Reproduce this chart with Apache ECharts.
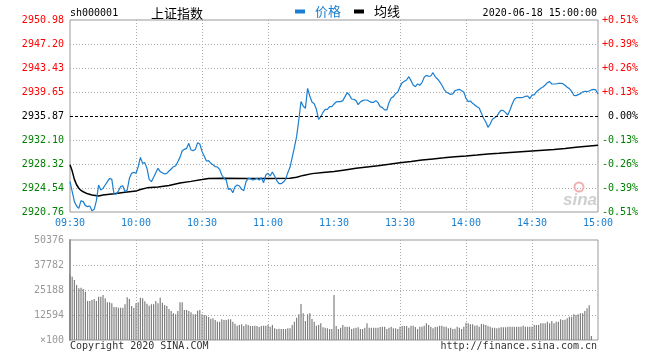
<!DOCTYPE html>
<html>
<head>
<meta charset="utf-8">
<script src="https://cdn.jsdelivr.net/npm/echarts@6/dist/echarts.min.js"></script>
<style>html,body{margin:0;padding:0;background:#fff}#c{width:660px;height:360px}</style>
</head>
<body>
<div id="c"></div>
<script>
// ---- data ----
const timeLabels = ['09:30','10:00','10:30','11:00','11:30','13:30','14:00','14:30','15:00'];
const priceTicks = ['2920.76','2924.54','2928.32','2932.10','2935.87','2939.65','2943.43','2947.20','2950.98'];
const pctTicks = ['-0.51%','-0.39%','-0.26%','-0.13%','0.00%','+0.13%','+0.26%','+0.39%','+0.51%'];
const volTicks = ['×100','12594','25188','37782','50376'];
const prevClose = 2935.87;
const priceStep = 3.7775;
const volMax = 50376;

// price per minute (09:30 .. 15:00, 241 points)
const prices = [
2925.53,2923.96,2922.39,2921.70,2921.34,2922.54,2922.39,2921.76,2921.60,2921.70,
2920.97,2921.18,2922.54,2925.01,2924.22,2924.48,2925.01,2925.53,2926.06,2925.90,
2923.59,2923.59,2924.06,2924.75,2924.90,2923.96,2924.22,2926.06,2926.85,2927.00,
2926.85,2927.89,2929.36,2928.42,2928.52,2927.63,2925.90,2925.53,2926.22,2926.95,
2927.63,2927.11,2926.95,2926.74,2926.85,2927.21,2927.53,2927.89,2928.00,2928.68,
2929.36,2930.41,2930.62,2930.78,2931.57,2930.52,2930.41,2930.62,2931.67,2931.46,
2930.30,2929.57,2928.79,2928.84,2928.42,2928.21,2927.89,2927.84,2927.48,2926.58,
2926.06,2925.80,2924.33,2924.43,2923.80,2924.75,2925.01,2924.85,2924.33,2924.12,
2925.53,2926.06,2926.01,2925.80,2925.90,2926.06,2925.80,2926.16,2925.38,2926.58,
2926.85,2926.43,2927.06,2926.43,2925.69,2925.22,2925.22,2925.48,2925.90,2926.95,
2927.79,2929.36,2930.94,2932.62,2935.24,2938.13,2937.44,2937.08,2940.22,2939.02,
2938.07,2937.81,2936.92,2935.35,2935.76,2936.45,2936.92,2936.92,2937.34,2937.34,
2937.75,
2938.08,2938.13,2938.13,2938.29,2938.92,2939.55,2939.18,2938.55,2938.50,2938.29,
2937.66,2938.08,2938.29,2938.39,2938.39,2938.18,2938.02,2938.02,2938.29,2937.97,
2937.34,2937.19,2936.82,2936.82,2937.97,2938.71,2938.92,2939.39,2939.65,2940.49,
2941.12,2941.33,2941.54,2942.06,2941.44,2940.75,2940.49,2940.91,2940.70,2941.12,
2941.96,2942.27,2942.12,2942.17,2942.69,2942.06,2941.70,2941.28,2940.75,2940.07,
2939.65,2939.44,2939.28,2939.34,2939.86,2939.97,2940.07,2939.86,2939.65,2938.65,
2938.13,2938.23,2937.87,2937.61,2937.34,2937.13,2936.29,2935.51,2934.93,2934.09,
2934.61,2935.35,2935.61,2935.82,2936.40,2936.77,2936.71,2936.40,2936.03,2936.82,
2937.76,2938.50,2938.76,2938.76,2938.76,2938.81,2938.97,2939.02,2938.60,2939.18,
2939.18,2939.65,2939.97,2940.23,2940.44,2940.75,2941.12,2941.28,2940.91,2940.91,
2940.91,2941.02,2941.02,2940.96,2940.70,2940.39,2940.18,2939.76,2939.13,2939.07,
2939.23,2939.39,2939.65,2939.76,2939.70,2939.81,2939.97,2940.07,2939.97,2939.34
];

// average line, read at these minutes
const avgMinutes = [0,1,2,3,4,5,6,8,10,13,15,20,25,30,32,35,40,45,50,55,60,63,70,80,90,100,103,106,110,115,120,125,130,135,140,145,150,155,160,165,170,175,180,185,190,195,200,205,210,215,220,225,230,235,240];
const avgValues = [2928.20,2927.20,2925.90,2925.05,2924.50,2924.15,2923.95,2923.62,2923.45,2923.28,2923.42,2923.63,2923.85,2924.05,2924.30,2924.56,2924.70,2924.93,2925.33,2925.58,2925.86,2926.04,2926.06,2926.03,2926.02,2926.06,2926.22,2926.52,2926.80,2926.97,2927.12,2927.38,2927.64,2927.85,2928.05,2928.27,2928.50,2928.72,2928.95,2929.12,2929.28,2929.45,2929.58,2929.72,2929.87,2929.99,2930.12,2930.24,2930.36,2930.48,2930.60,2930.76,2930.95,2931.10,2931.25];

// volume per minute (x100)
const volumes = [
33000,31905,30226,27707,26028,26363,25692,24348,19647,19647,
20150,20654,19647,21830,21830,22669,20990,18975,18975,18471,
16624,16624,16288,16288,16288,17967,21494,20654,17128,16288,
18471,18975,21326,20990,19479,18303,17296,17967,17967,19647,
18471,21326,18807,17632,17128,15617,14609,13434,12930,14609,
18975,18975,15113,15113,14609,13937,12930,12930,14777,15113,
12930,12594,12258,11586,10747,10915,10075,9236,9236,10411,
10075,10075,10411,10411,9236,8228,7221,7556,7892,7053,
7892,7556,7053,7053,7221,7053,6549,7053,7221,7221,
7556,6717,7556,5877,5541,5709,5541,5541,5541,5877,
5877,7556,9236,11251,12930,18135,13434,9571,12930,13434,
10579,9236,7221,7556,8396,6381,6213,5877,5541,5541,
22669,
7053,5541,6213,7556,6717,6717,6717,5541,5877,6213,
6381,5541,5541,6213,8396,6213,6213,6213,6213,6213,
6549,6717,6717,5541,6213,6717,5877,5877,5541,6717,
7053,7053,7053,6213,7221,7221,6549,5541,6717,6717,
7221,8396,7556,6717,5877,6549,6717,7221,7221,6717,
6717,5877,6213,5541,5709,6717,6213,5541,6717,8732,
8396,7892,7892,7221,7388,6717,8060,7892,7556,7053,
6717,6213,6213,5877,6213,6381,6381,6381,6717,6717,
6717,6717,6717,6717,6717,7221,6717,6717,6717,6717,
7556,7556,7556,8396,8396,8396,9236,8396,9571,8396,
9236,9236,10411,10075,10243,10915,11754,11754,12930,12594,
12930,13434,13434,14609,15952,17464,2015,0,0,0
];

// ---- chart ----
const MONO = '"DejaVu Sans Mono", monospace';
const CJK = '"Noto Sans CJK SC", sans-serif';
const BLUE = '#1a7fd0';
const RED = '#ff0000';
const GREEN = '#008000';
const norm = v => (v - prevClose) / priceStep;
const sideColor = (val) => { const n = parseFloat(val); return n > 0.01 ? RED : (n < -0.01 ? GREEN : '#000'); };
const dotted = { color: '#aaa', type: [1, 2], width: 1 };
const hSplitColors = ['transparent','#aaa','#aaa','#aaa','transparent','#aaa','#aaa','#aaa','transparent'];

const chart = echarts.init(document.getElementById('c'), null, { renderer: 'canvas' });
chart.setOption({
  animation: false,
  backgroundColor: '#fff',
  grid: [
    { left: 70, top: 20, width: 528, height: 192, show: true, borderColor: '#999', borderWidth: 1, backgroundColor: 'transparent' },
    { left: 70, top: 240, width: 528, height: 100, show: true, borderColor: '#999', borderWidth: 1, backgroundColor: 'transparent' }
  ],
  legend: {
    left: 295, top: 5, padding: 0, icon: 'rect', itemWidth: 10, itemHeight: 4, itemGap: 13,
    textStyle: { fontSize: 13, fontFamily: CJK, padding: [0, 0, 0, 5] },
    data: [
      { name: '价格', textStyle: { color: BLUE } },
      { name: '均线', textStyle: { color: '#000' } }
    ],
    selectedMode: false
  },
  xAxis: [
    {
      type: 'value', gridIndex: 0, min: 0, max: 240, interval: 30,
      axisLine: { show: false }, axisTick: { show: false },
      axisLabel: { show: true, margin: 6, color: BLUE, fontFamily: MONO, fontSize: 10,
        showMinLabel: true, showMaxLabel: true,
        formatter: v => timeLabels[Math.round(v / 30)] },
      splitLine: { show: true, lineStyle: Object.assign({}, dotted, { color: hSplitColors }) }
    },
    {
      type: 'value', gridIndex: 1, min: 0, max: 240, interval: 30,
      axisLine: { show: false }, axisTick: { show: false }, axisLabel: { show: false },
      splitLine: { show: true, lineStyle: Object.assign({}, dotted, { color: hSplitColors }) }
    }
  ],
  yAxis: [
    {
      type: 'value', gridIndex: 0, position: 'left', min: -4, max: 4, interval: 1,
      axisLine: { show: false }, axisTick: { show: false },
      axisLabel: { margin: 6, fontFamily: MONO, fontSize: 10, color: sideColor,
        showMinLabel: true, showMaxLabel: true,
        formatter: v => priceTicks[Math.round(v) + 4] },
      splitLine: { show: true, lineStyle: Object.assign({}, dotted, { color: hSplitColors }) }
    },
    {
      type: 'value', gridIndex: 0, position: 'right', min: -4, max: 4, interval: 1,
      axisLine: { show: false }, axisTick: { show: false },
      axisLabel: { margin: 40, align: 'right', fontFamily: MONO, fontSize: 10, color: sideColor,
        showMinLabel: true, showMaxLabel: true,
        formatter: v => pctTicks[Math.round(v) + 4] },
      splitLine: { show: false }
    },
    {
      type: 'value', gridIndex: 1, position: 'left', min: 0, max: volMax, interval: 12594,
      axisLine: { show: true, lineStyle: { color: '#999', width: 2 } }, axisTick: { show: false },
      axisLabel: { margin: 6, fontFamily: MONO, fontSize: 10, color: '#999',
        showMinLabel: true, showMaxLabel: true,
        formatter: v => volTicks[Math.round(v / 12594)] },
      splitLine: { show: true, lineStyle: Object.assign({}, dotted, { color: ['transparent','#aaa','#aaa','#aaa','transparent'] }) }
    }
  ],
  series: [
    {
      name: '价格', type: 'line', xAxisIndex: 0, yAxisIndex: 0, symbol: 'none', z: 4,
      color: BLUE, lineStyle: { color: BLUE, width: 1.2 },
      data: prices.map((v, i) => [i, norm(v)]),
      markLine: {
        silent: true, symbol: 'none', label: { show: false },
        lineStyle: { color: '#000', type: [3, 2], width: 1 },
        data: [{ yAxis: 0 }]
      }
    },
    {
      name: '均线', type: 'line', xAxisIndex: 0, yAxisIndex: 0, symbol: 'none', z: 3,
      color: '#000', lineStyle: { color: '#000', width: 1.5 },
      data: avgMinutes.map((m, i) => [m, norm(avgValues[i])])
    },
    {
      name: '成交量', type: 'bar', xAxisIndex: 1, yAxisIndex: 2, barWidth: 1.2,
      itemStyle: { color: '#808080' },
      data: volumes.map((v, i) => [i, v])
    }
  ],
  graphic: [
    { type: 'text', x: 70, y: 13, style: { text: 'sh000001', font: '10px ' + MONO, fill: '#000', verticalAlign: 'middle', align: 'left' } },
    { type: 'text', x: 151, y: 13, style: { text: '上证指数', font: '13px ' + CJK, fill: '#000', verticalAlign: 'middle', align: 'left' } },
    { type: 'text', x: 597, y: 13, style: { text: '2020-06-18 15:00:00', font: '10px ' + MONO, fill: '#000', verticalAlign: 'middle', align: 'right' } },
    { type: 'text', x: 70, y: 346, style: { text: 'Copyright 2020 SINA.COM', font: '10px ' + MONO, fill: '#333', verticalAlign: 'middle', align: 'left' } },
    { type: 'text', x: 597, y: 346, style: { text: 'http://finance.sina.com.cn', font: '10px ' + MONO, fill: '#333', verticalAlign: 'middle', align: 'right' } },
    { type: 'circle', shape: { cx: 579, cy: 187, r: 4.5 }, style: { fill: 'none', stroke: '#f2b0b0', lineWidth: 2 }, z: 1 },
    { type: 'text', x: 580, y: 200, style: { text: 'sina', font: 'italic bold 17px "Liberation Sans", sans-serif', fill: '#cfcfcf', verticalAlign: 'middle', align: 'center' }, z: 1 }
  ]
});
</script>
</body>
</html>
